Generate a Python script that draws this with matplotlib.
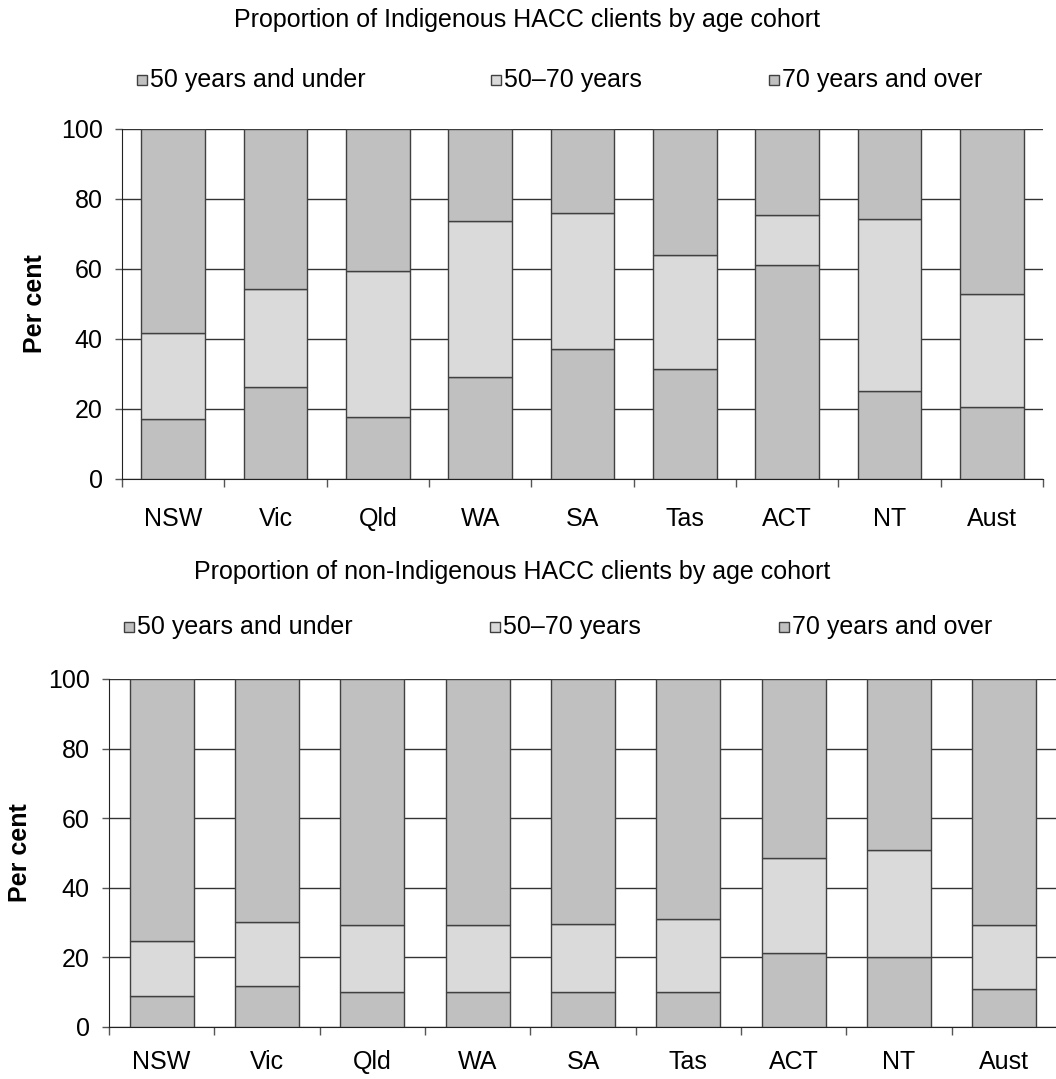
import numpy as np
import matplotlib
matplotlib.use("Agg")
import matplotlib.pyplot as plt
from matplotlib.patches import Rectangle

plt.rcParams['font.family'] = ['Liberation Sans', 'DejaVu Sans']

# data (per cent of clients in each age cohort)
states = ['NSW', 'Vic', 'Qld', 'WA', 'SA', 'Tas', 'ACT', 'NT', 'Aust']
cohorts = ['50 years and under', '50\u201370 years', '70 years and over']

ind_under50 = [17.2, 26.3, 17.7, 29.2, 37.1, 31.5, 61.1, 25.1, 20.6]
ind_50to70 = [24.5, 28.0, 41.8, 44.5, 38.9, 32.6, 14.3, 49.3, 32.4]
ind_70over = [58.3, 45.7, 40.5, 26.3, 24.0, 35.9, 24.6, 25.6, 47.0]

non_under50 = [9.0, 11.9, 10.2, 10.2, 10.2, 10.2, 21.2, 20.2, 10.9]
non_50to70 = [15.6, 18.4, 19.1, 19.1, 19.5, 20.7, 27.3, 30.6, 18.4]
non_70over = [75.4, 69.7, 70.7, 70.7, 70.3, 69.1, 51.5, 49.2, 70.7]

DARK = '#c0c0c0'
LIGHT = '#dadada'
EDGE = '#404040'
colors = [DARK, LIGHT, DARK]
FS = 18

W, H = 1056, 1079
fig = plt.figure(figsize=(W / 100, H / 100), dpi=100)


def px_axes(left, top, right, bottom):
    return fig.add_axes([left / W, 1 - bottom / H, (right - left) / W, (bottom - top) / H])


def draw_panel(ax, series, width, xpad):
    x = np.arange(len(states))
    base = np.zeros(len(states))
    for vals, c in zip(series, colors):
        ax.bar(x, vals, width, bottom=base, color=c, edgecolor=EDGE, linewidth=1, zorder=3)
        base = base + np.array(vals)
    ax.set_xlim(-0.5, len(states) - 0.5)
    ax.set_ylim(0, 100)
    ax.set_yticks(np.arange(0, 101, 20))
    ax.set_xticks(x)
    ax.set_xticklabels(states)
    ax.set_xticks(np.arange(-0.5, len(states)), minor=True)
    ax.tick_params(axis='x', which='major', length=0, pad=xpad, labelsize=FS)
    ax.tick_params(axis='x', which='minor', length=5.8, width=1, color='#555555')
    ax.tick_params(axis='y', length=5, width=1, pad=9, labelsize=FS, color='#555555')
    ax.yaxis.grid(True, color='#333333', linewidth=1)
    ax.set_axisbelow(True)
    for s in ['top', 'right']:
        ax.spines[s].set_visible(False)
    for s in ['left', 'bottom']:
        ax.spines[s].set_color('#222222')


def draw_legend(y, xs):
    for xl, lab, c in zip(xs, cohorts, colors):
        fig.patches.append(Rectangle((xl / W, 1 - (y + 5) / H), 10 / W, 10 / H,
                                     transform=fig.transFigure, facecolor=c,
                                     edgecolor=EDGE, linewidth=1))
        fig.text((xl + 13) / W, 1 - y / H, lab, fontsize=FS, va='center', ha='left')


# top panel: Indigenous
ax1 = px_axes(122, 129, 1043, 479)
draw_panel(ax1, [ind_under50, ind_50to70, ind_70over], 0.62, 20)
fig.text(527 / W, 1 - 20 / H, 'Proportion of Indigenous HACC clients by age cohort',
         fontsize=FS, ha='center', va='center')
draw_legend(80, [137, 491, 769])
fig.text(35 / W, 1 - 304 / H, 'Per cent', fontsize=FS, fontweight='bold',
         rotation=90, ha='center', va='center')

# bottom panel: non-Indigenous
ax2 = px_axes(109, 679, 1057, 1027)
draw_panel(ax2, [non_under50, non_50to70, non_70over], 0.61, 16.5)
fig.text(512 / W, 1 - 572 / H, 'Proportion of non-Indigenous HACC clients by age cohort',
         fontsize=FS, ha='center', va='center')
draw_legend(627, [124, 490, 779])
fig.text(20 / W, 1 - 853 / H, 'Per cent', fontsize=FS, fontweight='bold',
         rotation=90, ha='center', va='center')

fig.savefig('out.png', dpi=100)
